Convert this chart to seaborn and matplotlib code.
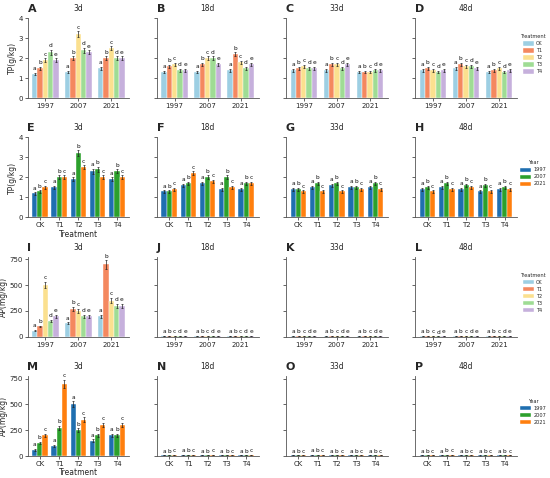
import numpy as np
import pandas as pd
import seaborn as sns
import matplotlib.pyplot as plt

years = ['1997', '2007', '2021']
treatments = ['CK', 'T1', 'T2', 'T3', 'T4']
days = ['3d', '18d', '33d', '48d']

# rows = years, columns = treatments
tp = {
    '3d': [[1.2, 1.5, 1.9, 2.3, 1.9], [1.3, 2.0, 3.2, 2.4, 2.3], [1.5, 2.0, 2.5, 2.0, 2.0]],
    '18d': [[1.3, 1.6, 1.7, 1.4, 1.4], [1.3, 1.7, 2.0, 2.0, 1.7], [1.4, 2.2, 1.8, 1.5, 1.7]],
    '33d': [[1.4, 1.5, 1.6, 1.5, 1.5], [1.4, 1.7, 1.7, 1.5, 1.7], [1.3, 1.3, 1.3, 1.4, 1.4]],
    '48d': [[1.4, 1.5, 1.4, 1.3, 1.4], [1.5, 1.7, 1.6, 1.6, 1.5], [1.3, 1.4, 1.5, 1.3, 1.4]],
}
tp_err = {
    '3d': [[0.06, 0.07, 0.1, 0.12, 0.1], [0.06, 0.1, 0.15, 0.12, 0.1], [0.08, 0.1, 0.1, 0.1, 0.1]],
    '18d': [[0.06, 0.07, 0.08, 0.07, 0.07], [0.06, 0.08, 0.1, 0.1, 0.08], [0.07, 0.1, 0.08, 0.07, 0.08]],
    '33d': [[0.07, 0.07, 0.08, 0.07, 0.07], [0.07, 0.08, 0.08, 0.07, 0.08], [0.06, 0.06, 0.06, 0.07, 0.07]],
    '48d': [[0.07, 0.07, 0.07, 0.06, 0.07], [0.07, 0.08, 0.08, 0.08, 0.07], [0.06, 0.07, 0.07, 0.06, 0.07]],
}
ap = {
    '3d': [[60, 100, 500, 150, 200], [130, 270, 250, 200, 200], [200, 700, 350, 300, 300]],
    '18d': [[6, 9, 7, 6, 7], [7, 8, 7, 6, 7], [8, 10, 8, 7, 8]],
    '33d': [[6, 10, 7, 6, 6], [7, 9, 7, 6, 7], [7, 8, 7, 7, 7]],
    '48d': [[6, 7, 6, 5, 6], [7, 8, 7, 6, 7], [7, 9, 7, 6, 7]],
}
ap_err = {
    '3d': [[8, 8, 30, 12, 15], [10, 20, 20, 15, 15], [15, 40, 25, 20, 20]],
    '18d': [[1, 1, 1, 1, 1], [1, 1, 1, 1, 1], [1, 1, 1, 1, 1]],
    '33d': [[1, 1, 1, 1, 1], [1, 1, 1, 1, 1], [1, 1, 1, 1, 1]],
    '48d': [[1, 1, 1, 1, 1], [1, 1, 1, 1, 1], [1, 1, 1, 1, 1]],
}
letters_trt = ['a', 'b', 'c', 'd', 'e']
letters_year = ['a', 'b', 'c']
panel_labels = list('ABCDEFGHIJKLMNOP')

trt_colors = ['#9dcfe3', '#f4885f', '#fbe08f', '#9fdc94', '#c6b0dc']
year_colors = ['#1f6fb0', '#2ca02c', '#ff7f0e']

sns.set_style('ticks')
plt.rcParams['font.family'] = ['DejaVu Sans']

fig, axes = plt.subplots(4, 4, figsize=(5.5, 4.78), dpi=100)
fig.subplots_adjust(left=0.05, right=0.94, top=0.962, bottom=0.046, wspace=0.27, hspace=0.49)

rows = [(tp, tp_err, 'Year', 'TP(g/kg)', 4, [0, 1, 2, 3, 4]),
        (tp, tp_err, 'Treatment', 'TP(g/kg)', 4, [0, 1, 2, 3, 4]),
        (ap, ap_err, 'Year', 'AP(mg/kg)', 775, [0, 250, 500, 750]),
        (ap, ap_err, 'Treatment', 'AP(mg/kg)', 775, [0, 250, 500, 750])]

for r, (vals, errs, xcol, ylab, ymax, yticks) in enumerate(rows):
    for c, d in enumerate(days):
        ax = axes[r, c]
        recs = []
        for yi, yr in enumerate(years):
            for ti, tr in enumerate(treatments):
                recs.append({'Year': yr, 'Treatment': tr, 'v': vals[d][yi][ti]})
        df = pd.DataFrame(recs)
        if xcol == 'Year':
            hue, pal, order, hue_order, lets = 'Treatment', trt_colors, years, treatments, letters_trt
        else:
            hue, pal, order, hue_order, lets = 'Year', year_colors, treatments, years, letters_year
        sns.barplot(data=df, x=xcol, y='v', hue=hue, order=order, hue_order=hue_order,
                    palette=pal, saturation=1, errorbar=None, edgecolor='white',
                    linewidth=0.3, legend=(c == 3), ax=ax)
        conts = list(ax.containers)
        for ci, cont in enumerate(conts):
            for bi, bar in enumerate(cont):
                if xcol == 'Year':
                    e = errs[d][bi][ci]
                else:
                    e = errs[d][ci][bi]
                x = bar.get_x() + bar.get_width() / 2
                h = bar.get_height()
                ax.errorbar(x, h, yerr=e, fmt='none', ecolor='#222222', elinewidth=0.5,
                            capsize=1.0, capthick=0.5)
                ax.text(x, h + e + 0.02 * ymax, lets[ci], ha='center', va='bottom',
                        fontsize=4.2, color='#111111')
        ax.set_ylim(0, ymax)
        ax.set_yticks(yticks)
        ax.tick_params(labelsize=5, length=2, width=0.5, pad=1.5)
        for s in ['left', 'bottom']:
            ax.spines[s].set_linewidth(0.6)
            ax.spines[s].set_color('#555555')
        sns.despine(ax=ax)
        if c == 0:
            ax.set_ylabel(ylab, fontsize=5.5, labelpad=1)
        else:
            ax.set_ylabel('')
            ax.set_yticklabels([])
        if xcol == 'Treatment' and c == 0:
            ax.set_xlabel('Treatment', fontsize=5.5, labelpad=1)
        else:
            ax.set_xlabel('')
        ax.set_title(d, fontsize=5.5, pad=5)
        ax.text(0.0, 1.05, panel_labels[r * 4 + c], transform=ax.transAxes,
                fontsize=8, fontweight='bold', ha='left', va='bottom')
        if c == 3:
            sns.move_legend(ax, 'center left', bbox_to_anchor=(1.0, 0.55), frameon=False,
                            fontsize=3.6, title_fontsize=3.6, handlelength=2.2,
                            handleheight=0.9, labelspacing=0.4, handletextpad=0.5,
                            borderaxespad=0.2)

fig.savefig('out.png', dpi=100)
